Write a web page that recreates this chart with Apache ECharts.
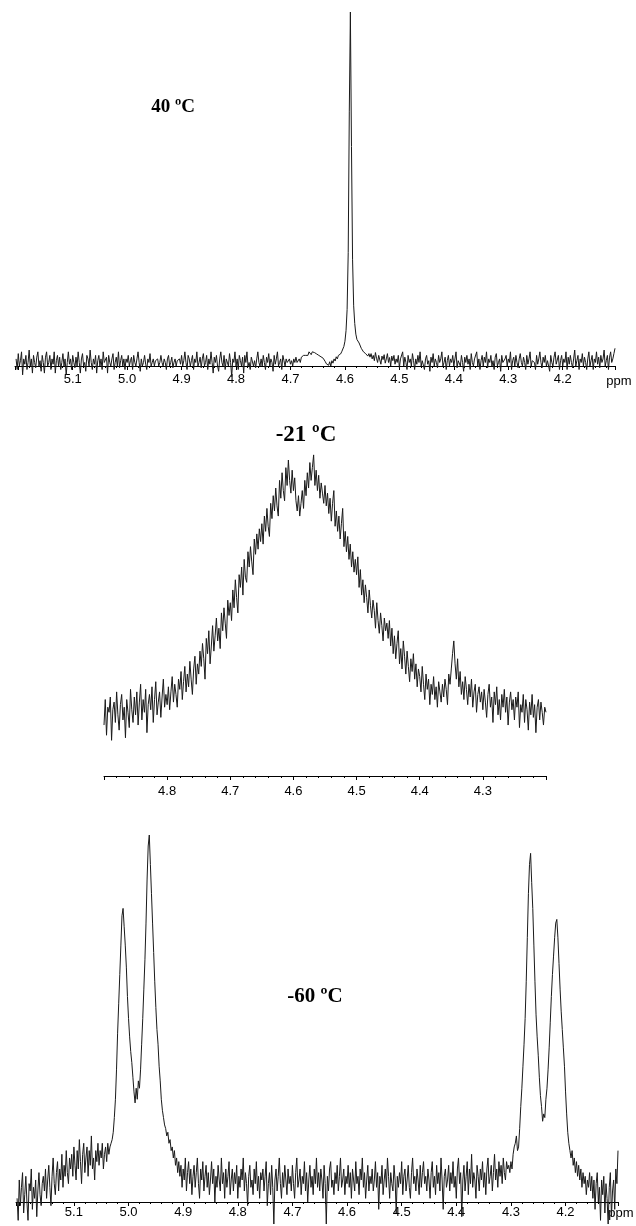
<!DOCTYPE html>
<html><head><meta charset="utf-8">
<script src="https://cdn.jsdelivr.net/npm/echarts@6/dist/echarts.min.js"></script>
<style>html,body{margin:0;padding:0;background:#fff}#c{width:636px;height:1226px}</style>
</head><body><div id="c"></div>
<script>
// chemical shift sampling (ppm): first point and spacing of each trace
const step = 0.002;
const start40 = 5.204;
const start21 = 4.900;
const start60 = 5.204;

// tick labels
const ticks40 = ['5.1','5.0','4.9','4.8','4.7','4.6','4.5','4.4','4.3','4.2'];
const ticks21 = ['4.8','4.7','4.6','4.5','4.4','4.3'];
const ticks60 = ['5.1','5.0','4.9','4.8','4.7','4.6','4.5','4.4','4.3','4.2'];

const titles = ['40 ºC', '-21 ºC', '-60 ºC'];
const unit = 'ppm';

// intensities (relative), one row = 0.05 ppm
const intensity40 = [
 2,-1,3.5,0,1.5,4,-2.5,2,0.5,3,-1,1,4.5,0,2,-2,3,1,-0.5,2.5,4,0,1.5,-1.5,3,
 1,-2,2.5,4,0,1,3,-1,2,0.5,4,-2,1.5,3,0,2.5,-1,1,3.5,0,2,-2.5,1,4,0.5,
 2,-1,3,1,-0.5,2.5,0,4,1,-2,2,3.5,0,1,-1.5,3,2,0,4.5,1,-1,2,0.5,3,-2,
 1.5,3,0,2,-1,4,1,0.5,2.5,-2,3,1,0,2,3.5,-1,1,2.5,0,4,-0.5,1.5,3,0,2,
 -1,2,1,3,0,1.5,2.5,-1,3,1,0,2,4,1,-1.5,2,0,1,3,0.5,-1,2,1,3.5,0,
 1,2,0,1.5,1,2,0,1,3,1,0,2,1,-1,2,3,0,1,2.5,-0.5,1,2,0,1.5,1,
 2,0.5,3,0,1.5,4,1,-1,3,2,0,1.5,3,-1,2,1,4,0,1,2.5,-0.5,2,3.5,0,1,
 3,-1,2,0.5,4,1,-2,2.5,1,3,0,-1.5,2,4,1,0,3,-1,2,1.5,0,3.5,1,-3,2,
 1,4,0,2,-1,3,1.5,0,2.5,-2,3,1,4,0,1,-1,2.5,3,0,1.5,-0.5,2,4,1,0,
 2,0,3,1,-1,2.5,1,3.5,0,2,1,-1.5,3,0.5,2,4,0,1,2,-1,3,1.5,0,2,1,
 1,2,0.5,1.5,0,2,1,2.5,1,1.5,2,1,2.5,2,3,2.5,3,3.5,3,4,3.5,3.2,4,3.6,3.8,
 3.6,3.4,3.8,3,3.2,2.6,2.8,2.2,1.8,1.2,0.6,1,0.2,1.2,0,1.5,0.8,2,1.4,2.6,2,3,2.6,3.4,4,
 4.5,5.5,7,10,16,32,72,100,62,30,17,12,9,7.5,7,6.5,6,5,5.5,4,4.5,3.5,4,2.8,3.5,
 2.5,3.5,2,3,1.5,3.8,2.2,1,3,2.5,0.5,2.8,1.8,3.2,0.8,2,3.5,1,2.4,0,2.8,1.5,3,0.5,2,
 1,3,-0.5,2,1.5,4,0,2.5,1,-1,3,1,2,0,3.5,1.5,-1,2,0.5,3,1,4,0,1.5,2,
 -1,2,3,0.5,1.5,-1.5,2.5,1,3.5,0,2,1,-0.5,3,1,2,4,0,1,2.5,-1,1.5,3,0,2,
 1,3,0,2,4,-0.5,1.5,2,0,3,1,-1.5,2.5,1,3,0.5,2,-1,3.5,1,0,2,1.5,4,0,
 2,-1,1.5,3,0,2.5,1,4,-0.5,2,1,3,0,1.5,-1,2.5,3.5,0,1,2,-1.5,3,1,0.5,2,
 3,0,2,1,4,-1,1.5,2.5,0,3,1,-0.5,2,3.5,1,0,2.5,1,-1,3,0.5,2,4,0,1.5,
 2,1,-1,3,0.5,2,4,1,-0.5,2.5,1,3,0,1.5,2,-1.5,3,1,0,2.5,4,0.5,1,3,-1,
 1.5,3,0,2,1,4,-1,2.5,0.5,3,1,-0.5,2,4.5,0,1.5,3,-1,2,1,3.5,0,2.5,1,-1,
 2,4,0,1.5,3,-1,2,1,4,0.5,2.5,-0.5,3,1,2,4.5,0,1.5,3,-1,2.5,4,1,2,3.5,
 5
];
const intensity21 = [
 -4,6,-8,3,1,7,-10,2,5,-3,9,0,-6,4,8,-2,3,-9,6,1,-5,10,2,-3,7,
 0,9,-4,5,12,-2,6,1,10,-7,4,8,2,11,-3,6,13,0,5,9,-1,7,14,3,8,
 4,11,2,9,15,5,12,8,3,14,10,17,6,13,19,9,16,11,21,14,8,18,23,12,20,
 16,25,19,28,22,14,30,24,33,20,27,35,25,31,38,29,34,26,40,33,42,36,30,45,39,
 44,37,49,42,53,46,40,55,50,58,47,61,54,52,64,58,66,60,55,69,63,71,65,73,68,
 75,67,78,72,81,74,70,83,77,86,80,89,82,78,92,85,95,88,84,97,90,100,92,87,96,
 88,93,84,80,86,78,83,88,81,92,86,95,89,99,92,97,102,90,96,88,94,85,91,87,83,
 90,82,87,79,85,76,83,88,74,80,72,78,69,75,81,66,72,64,70,61,67,58,64,56,61,
 55,62,50,57,47,53,44,51,46,40,49,43,38,45,41,34,44,37,32,40,35,29,38,33,36,
 30,37,27,34,24,31,22,28,33,20,26,18,29,23,16,25,19,13,22,17,24,14,20,11,18,
 15,9,19,12,6,16,10,14,4,12,8,15,6,11,3,13,9,5,12,7,14,10,4,16,12,
 18,24,29,20,14,22,11,17,8,13,6,15,10,4,12,7,14,3,9,12,1,8,11,5,9,
 2,10,5,-1,8,12,3,7,-3,9,4,11,0,6,-2,8,3,10,1,7,-4,5,9,2,6,
 -2,7,3,9,-5,4,1,8,-3,6,2,-6,5,0,8,-1,4,-7,3,6,-2,5,1,-4,3,
 1
];
const intensity60 = [
 1,-5,6,-1,4,8,-3,2,7,0,-5,5,3,9,-2,4,1,6,-4,3,8,2,-1,5,7,
 3,9,1,6,10,4,-1,7,12,5,2,8,11,3,9,6,13,4,10,7,14,8,5,12,9,
 13,7,15,10,6,14,9,17,11,5,13,16,8,12,15,7,14,10,18,9,12,6,14,11,16,
 10,14,12,16,9,13,15,11,16,13,15,16,17,19,23,28,36,46,54,62,70,78,80,75,70,
 64,56,50,45,41,38,34,30,27,31,28,33,31,36,43,50,58,66,76,88,97,100,92,84,76,
 68,60,53,47,43,37,33,28,25,23,21,20,18,19,16,17,14,15,12,14,10,12,8,11,7,
 10,4,9,6,12,3,8,11,5,9,2,7,10,4,8,12,5,1,9,6,11,3,7,10,4,
 8,2,6,11,5,9,0,7,4,10,6,3,12,5,8,1,9,4,7,11,2,6,9,3,8,
 5,10,1,7,4,9,6,12,3,8,5,-1,7,10,4,6,2,9,5,11,3,7,1,8,6,
 9,3,7,11,-1,5,8,2,10,4,-6,6,9,3,7,12,5,1,8,4,10,6,2,9,5,
 7,3,10,5,1,8,12,4,6,9,2,7,5,11,3,8,0,6,10,4,7,2,9,5,12,
 4,8,3,9,6,1,10,5,-6,7,3,9,11,4,6,2,8,5,10,3,7,12,4,6,9,
 2,7,5,10,4,8,1,9,6,3,11,5,7,2,9,6,12,4,8,1,6,10,3,7,5,
 9,3,6,11,4,8,-2,7,5,10,2,6,9,4,12,7,1,8,5,3,10,6,-3,7,4,
 8,5,11,2,7,9,3,6,10,4,1,8,12,5,7,3,9,6,2,10,4,8,11,5,7,
 3,9,6,1,8,11,4,7,2,10,5,8,3,12,6,-2,7,9,4,6,10,3,8,5,11,
 4,7,1,9,12,5,8,-4,6,10,3,7,11,2,9,5,13,4,8,6,1,10,7,3,9,
 6,11,4,8,2,9,12,5,7,10,3,8,13,6,9,4,11,7,10,5,12,8,6,11,9,
 10,8,11,9,13,15,16,18,14,15,20,26,31,37,43,50,60,72,84,92,95,87,80,70,60,
 51,45,40,34,29,26,22,24,23,28,31,36,42,49,56,62,67,72,76,77,72,65,58,52,47,
 42,37,30,24,19,16,14,12,14,10,12,8,11,7,10,6,9,4,8,5,7,2,6,4,8,
 3,7,1,6,-2,5,8,0,4,-5,6,2,7,-3,5,1,-6,4,8,-4,3,6,-2,9,5,
 14
];

function pairs(start, arr) {
  return arr.map((v, i) => [+(start - step * i).toFixed(3), v]);
}
function fmt(list) {
  return function (v) {
    const s = (Math.round(v * 10) / 10).toFixed(1);
    return (Math.abs(v * 10 - Math.round(v * 10)) < 1e-6 && list.indexOf(s) >= 0) ? s : '';
  };
}
function xAx(g, min, max, list, margin, split) {
  return {
    type: 'value', gridIndex: g, min: min, max: max, inverse: true, splitNumber: split,
    axisLine: { onZero: false, lineStyle: { color: '#000', width: 1 } },
    axisTick: { show: true, length: 4, lineStyle: { color: '#000' } },
    minorTick: { show: true, splitNumber: 5, length: 2, lineStyle: { color: '#000' } },
    splitLine: { show: false },
    axisLabel: { color: '#000', fontFamily: 'Liberation Sans', fontSize: 13, margin: margin, formatter: fmt(list) }
  };
}
function yAx(g, min, max) {
  return { type: 'value', gridIndex: g, min: min, max: max, show: false, splitLine: { show: false } };
}
function ser(i, data) {
  return {
    type: 'line', xAxisIndex: i, yAxisIndex: i, data: data, showSymbol: false, clip: false,
    lineStyle: { color: '#1a1a1a', width: 1 }, silent: true
  };
}

const chart = echarts.init(document.getElementById('c'), null, { renderer: 'canvas' });
chart.setOption({
  animation: false,
  backgroundColor: '#fff',
  grid: [
    { left: 15, right: 21, top: 12, bottom: 860 },
    { left: 104, right: 90, top: 460, bottom: 450 },
    { left: 16, right: 18, top: 835, bottom: 24 }
  ],
  xAxis: [
    xAx(0, 4.104, 5.206, ticks40, 7, 11),
    xAx(1, 4.2, 4.9, ticks21, 9, 7),
    xAx(2, 4.104, 5.206, ticks60, 4, 11)
  ],
  yAxis: [yAx(0, 0, 100), yAx(1, -24, 100), yAx(2, 0, 100)],
  series: [
    ser(0, pairs(start40, intensity40)),
    ser(1, pairs(start21, intensity21)),
    ser(2, pairs(start60, intensity60))
  ],
  graphic: [
    { type: 'text', x: 173, y: 107, style: { text: titles[0], font: 'bold 19px "Liberation Serif"', fill: '#000', textAlign: 'center', textVerticalAlign: 'middle' } },
    { type: 'text', x: 306, y: 435, style: { text: titles[1], font: 'bold 23px "Liberation Serif"', fill: '#000', textAlign: 'center', textVerticalAlign: 'middle' } },
    { type: 'text', x: 315, y: 997, style: { text: titles[2], font: 'bold 21px "Liberation Serif"', fill: '#000', textAlign: 'center', textVerticalAlign: 'middle' } },
    { type: 'text', x: 619, y: 381, style: { text: unit, font: '13px "Liberation Sans"', fill: '#000', textAlign: 'center', textVerticalAlign: 'middle' } },
    { type: 'text', x: 621, y: 1213, style: { text: unit, font: '13px "Liberation Sans"', fill: '#000', textAlign: 'center', textVerticalAlign: 'middle' } }
  ]
});
</script></body></html>
